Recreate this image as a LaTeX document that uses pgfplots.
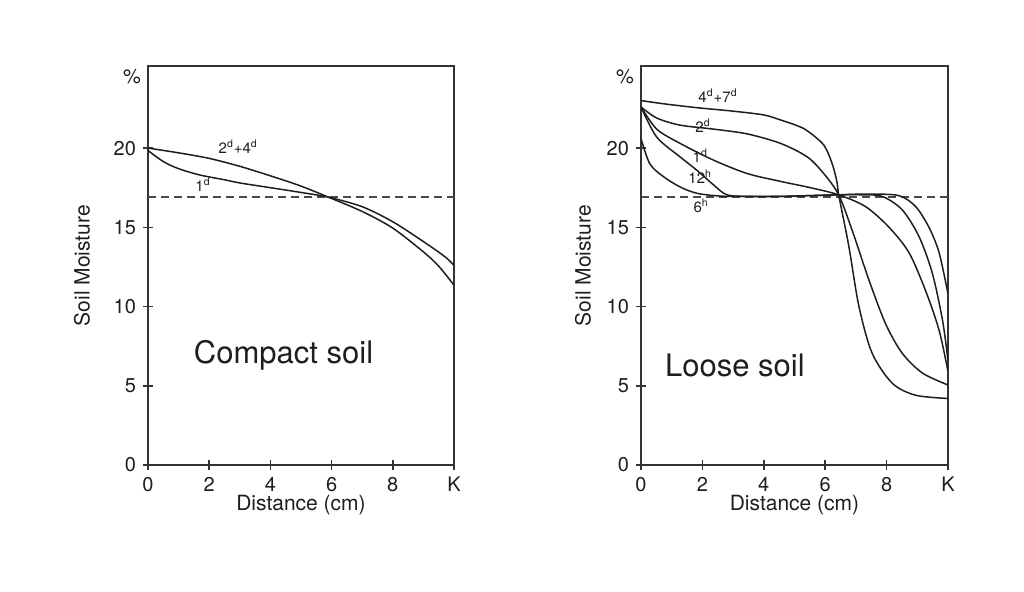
\documentclass[border=0pt]{standalone}
\usepackage{fontspec}
\setmainfont{TeX Gyre Heros}
\usepackage{pgfplots}
\pgfplotsset{compat=1.18}

\definecolor{ink}{HTML}{1E1E1E}
\definecolor{frame}{HTML}{333333}
\definecolor{dashgray}{HTML}{4A4A4A}

\tikzset{
  curvelabel/.style={font=\fontsize{7.5}{8}\selectfont, text=ink, inner sep=0pt},
  titlelabel/.style={font=\fontsize{15.5}{18}\selectfont, text=ink},
}

\pgfplotsset{
  soilaxis/.style={
    scale only axis, width=153pt, height=199.25pt,
    anchor=south west,
    xmin=0, xmax=10, ymin=0, ymax=25.15,
    xtick={0,2,4,6,8,10}, xticklabels={0,2,4,6,8,K},
    ytick={0,5,10,15,20},
    extra y ticks={24.5}, extra y tick labels={\%},
    extra y tick style={major tick length=0pt},
    tick align=center, major tick length=5pt,
    xtick pos=bottom, ytick pos=left,
    axis line style={line width=1pt, color=frame},
    tick style={line width=0.8pt, color=frame},
    /pgf/number format/assume math mode=true,
    ticklabel style={font=\fontsize{10}{12}\selectfont, text=ink},
    label style={font=\fontsize{10.5}{12}\selectfont, text=ink},
    xlabel={Distance (cm)},
    ylabel={Soil Moisture},
    xlabel style={at={(axis description cs:0.5,-0.1)}, anchor=center},
  },
  curve/.style={ink, line width=0.75pt, smooth, tension=0.5, mark=none},
  reference/.style={dashgray, line width=0.8pt, dash pattern=on 4pt off 2.5pt, sharp plot, mark=none},
}

\begin{document}
\begin{tikzpicture}
\useasboundingbox (-74pt,-63.5pt) rectangle (438pt,232.5pt);

% Compact soil
\begin{axis}[soilaxis, at={(0pt,0pt)},
  ylabel style={at={(axis description cs:-0.216,0.5)}, anchor=center}]
\addplot[reference] coordinates {(0,16.9) (10,16.9)};
% 2d + 4d
\addplot[curve] coordinates {(0,20.0) (1,19.7) (2,19.35) (3,18.85) (4,18.25) (5,17.6)
  (5.9,16.9) (7,16.0) (8,14.95) (9,13.45) (9.5,12.55) (10,11.35)};
% 1d
\addplot[curve] coordinates {(0,19.85) (0.5,19.15) (1,18.7) (1.7,18.3) (2.5,18.0) (3,17.8)
  (4,17.5) (5,17.2) (5.9,16.9) (7,16.3) (8,15.35) (9,14.1) (9.7,13.15) (10,12.6)};
\node[curvelabel] at (axis cs:2.95,20.06) {2\textsuperscript{d}+4\textsuperscript{d}};
\node[curvelabel] at (axis cs:1.8,17.7) {1\textsuperscript{d}};
\node[titlelabel] at (axis cs:4.43,6.94) {Compact soil};
\end{axis}

% Loose soil
\begin{axis}[soilaxis, at={(246.5pt,0pt)}, width=153.5pt,
  ylabel style={at={(axis description cs:-0.189,0.5)}, anchor=center}]
\addplot[reference] coordinates {(0,16.9) (10,16.9)};
% 4d + 7d
\addplot[curve] coordinates {(0,23.0) (0.72,22.8) (1.82,22.55) (2.9,22.35) (3.98,22.1)
  (4.54,21.78) (5.08,21.42) (5.41,21.1) (5.95,20.2) (6.23,19.0) (6.39,17.8) (6.44,17.05)
  (6.77,13.8) (7.1,10.0) (7.53,7.05) (8.19,5.15) (8.95,4.4) (10,4.2)};
% 2d
\addplot[curve] coordinates {(0,22.6) (0.51,21.9) (1.27,21.45) (2.35,21.2) (3.45,20.9)
  (4.54,20.3) (5.41,19.45) (5.95,18.4) (6.44,17.05) (6.88,14.8) (7.42,11.7)
  (7.97,8.9) (8.51,7.05) (9.17,5.8) (10,5.05)};
% 1d
\addplot[curve] coordinates {(0,22.6) (0.51,21.2) (1.27,20.3) (2.35,19.25) (3.45,18.4)
  (4.54,17.9) (5.52,17.5) (6.44,17.05) (7.32,16.3) (8.08,15.0) (8.73,13.4)
  (9.27,11.0) (9.71,8.5) (10,5.9)};
% 12h
\addplot[curve] coordinates {(0,22.6) (0.51,20.7) (1.27,19.45) (1.82,18.6) (2.35,17.7)
  (2.8,17.05) (3.5,16.95) (4.5,16.95) (5.5,17.0) (6.44,17.05) (7.2,17.05)
  (7.86,16.95) (8.51,16.1) (9.06,14.4) (9.49,12.1) (9.82,9.15) (10,6.6)};
% 6h
\addplot[curve] coordinates {(0,20.6) (0.29,19.0) (0.73,18.2) (1.27,17.55) (1.82,17.15)
  (2.58,16.97) (3.5,16.95) (4.5,16.95) (5.5,17.0) (6.44,17.05) (7.4,17.1)
  (8.4,17.0) (8.95,16.3) (9.38,15.0) (9.71,13.4) (10,10.8)};
\node[curvelabel] at (axis cs:2.51,23.3) {4\textsuperscript{d}+7\textsuperscript{d}};
\node[curvelabel] at (axis cs:2.02,21.4) {2\textsuperscript{d}};
\node[curvelabel] at (axis cs:1.93,19.55) {1\textsuperscript{d}};
\node[curvelabel] at (axis cs:1.93,18.2) {12\textsuperscript{h}};
\node[curvelabel] at (axis cs:1.96,16.35) {6\textsuperscript{h}};
\node[titlelabel] at (axis cs:3.06,6.31) {Loose soil};
\end{axis}
\end{tikzpicture}
\end{document}
